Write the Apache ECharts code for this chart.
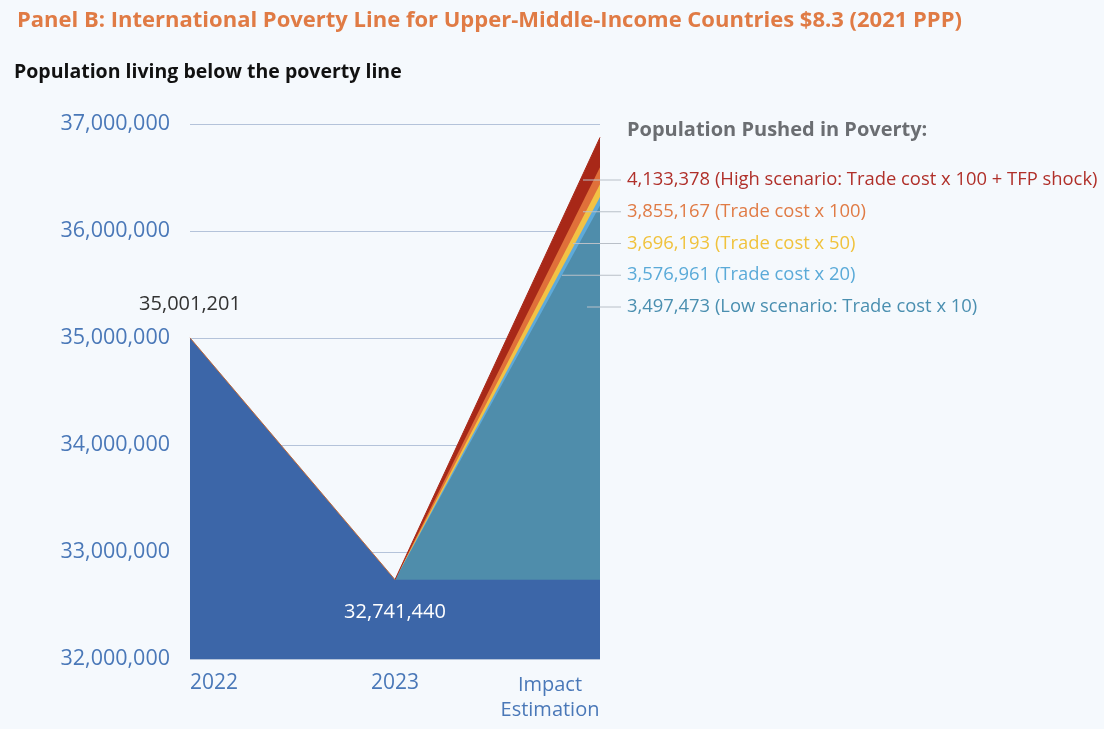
<!DOCTYPE html>
<html>
<head>
<meta charset="utf-8">
<script src="https://cdn.jsdelivr.net/npm/echarts@6/dist/echarts.min.js"></script>
<style>
html,body{margin:0;padding:0;background:#f5f9fd;}
#chart{width:1104px;height:729px;}
</style>
</head>
<body>
<div id="chart"></div>
<script>
var categories = ['2022', '2023', 'Impact\nEstimation'];
var baseValues = [35001201, 32741440, 32741440];
var scenarioNames = ['High scenario: Trade cost x 100 + TFP shock', 'Trade cost x 100', 'Trade cost x 50', 'Trade cost x 20', 'Low scenario: Trade cost x 10'];
var pushedValues = [4133378, 3855167, 3696193, 3576961, 3497473];
var scenarioColors = ['#a82818', '#e0703a', '#f2c245', '#5eaada', '#4f8dab'];
var labelColors = ['#b0302a', '#e07b45', '#f0c23c', '#5aaad8', '#4a8fb0'];
var yTicks = [32000000, 33000000, 34000000, 35000000, 36000000, 37000000];

var FONT = '"Open Sans"';
function fmt(v){ return v.toLocaleString('en-US'); }

var series = [];
scenarioNames.forEach(function(name, i){
  series.push({
    type: 'line', name: name,
    data: ['-', baseValues[1], baseValues[2] + pushedValues[i]],
    symbol: 'none',
    lineStyle: {width: i === 0 ? 1 : 0, color: scenarioColors[i]},
    itemStyle: {color: scenarioColors[i]},
    areaStyle: {color: scenarioColors[i], opacity: 1},
    silent: true
  });
});
series.push({
  type: 'line', name: 'Base',
  data: baseValues,
  symbol: 'none',
  lineStyle: {width: 0},
  areaStyle: {color: '#3c66a8', opacity: 1},
  silent: true
});
series.push({
  type: 'line', name: 'Edge',
  data: [
    {value: baseValues[0], label: {show: true, position: 'top', distance: 23, offset: [-3, 0], color: '#333333', fontSize: 20, fontFamily: FONT, formatter: function(p){return fmt(p.value);}}},
    {value: baseValues[1], label: {show: true, position: 'bottom', distance: 22, offset: [-3, 0], color: '#ffffff', fontSize: 20, fontFamily: FONT, formatter: function(p){return fmt(p.value);}}},
    '-'
  ],
  symbol: 'circle', symbolSize: 1, showAllSymbol: true,
  itemStyle: {color: 'rgba(0,0,0,0)'},
  lineStyle: {width: 1, color: '#c06a3a'},
  labelLayout: {hideOverlap: false},
  silent: true
});

var graphics = [
  {type: 'text', left: 17, top: 10, style: {text: 'Panel B: International Poverty Line for Upper-Middle-Income Countries $8.3 (2021 PPP)', fill: '#e07b45', font: 'bold 22px ' + FONT}},
  {type: 'text', left: 14, top: 62, style: {text: 'Population living below the poverty line', fill: '#111111', font: 'bold 19.5px ' + FONT}},
  {type: 'text', left: 627, top: 120, style: {text: 'Population Pushed in Poverty:', fill: '#6b6e72', font: 'bold 20px ' + FONT}}
];
var lineStarts = [583, 583, 573, 562, 587];
pushedValues.forEach(function(v, i){
  var yc = 179 + i * 31.75;
  graphics.push({type: 'line', shape: {x1: lineStarts[i], y1: yc + 1, x2: 621, y2: yc + 1}, style: {stroke: '#b9c0c8', lineWidth: 1}, z: 100});
  graphics.push({type: 'text', left: 627, top: yc - 8, style: {text: fmt(v) + ' (' + scenarioNames[i] + ')', fill: labelColors[i], font: '18.4px ' + FONT}, z: 100});
});

var chart = echarts.init(document.getElementById('chart'), null, {renderer: 'canvas'});
chart.setOption({
  backgroundColor: '#f5f9fd',
  animation: false,
  grid: {left: 190, right: 504, top: 124, bottom: 70, containLabel: false},
  xAxis: {
    type: 'category', data: categories, boundaryGap: false,
    axisLine: {show: false}, axisTick: {show: false},
    axisLabel: {
      margin: 14, color: '#4a78b8', fontSize: 21, fontFamily: FONT,
      alignMinLabel: 'left', alignMaxLabel: 'right',
      formatter: function(v){
        if (v.indexOf('\n') >= 0) { return v.split('\n').map(function(s){return '{c|' + s + '}';}).join('\n'); }
        return v;
      },
      rich: {c: {width: 100, align: 'center', color: '#4a78b8', fontSize: 20, fontFamily: FONT, lineHeight: 25}}
    },
    splitLine: {show: false}
  },
  yAxis: {
    type: 'value', min: yTicks[0], max: yTicks[yTicks.length - 1], interval: 1000000,
    axisLine: {show: false}, axisTick: {show: false},
    axisLabel: {margin: 20, color: '#4a78b8', fontSize: 21.5, fontFamily: FONT, formatter: function(v){return fmt(v);}},
    splitLine: {lineStyle: {color: '#b4c3da', width: 1}}
  },
  series: series,
  graphic: graphics
});
</script>
</body>
</html>
